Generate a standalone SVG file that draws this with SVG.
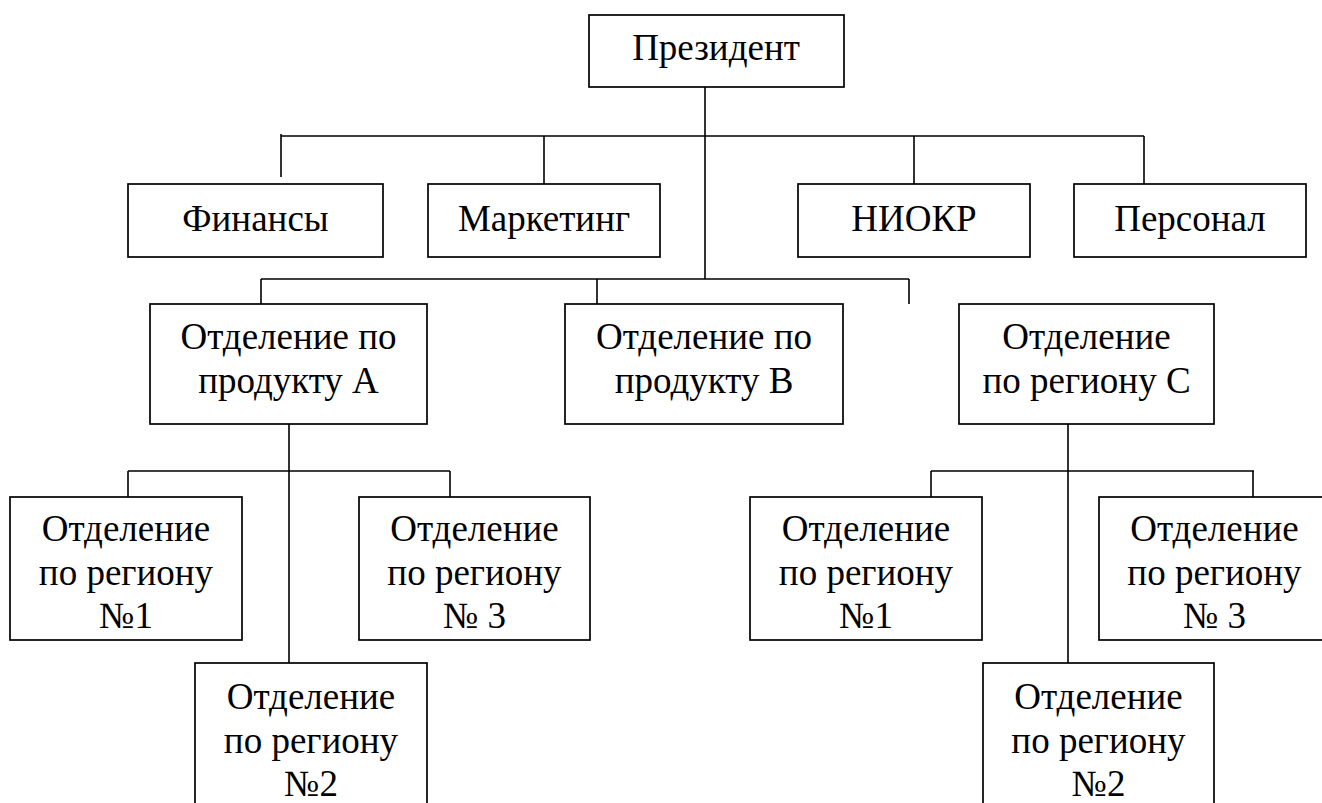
<svg xmlns="http://www.w3.org/2000/svg" width="1322" height="803" viewBox="0 0 1322 803">
<style>
.box{fill:#fff;stroke:#000;stroke-width:1.7}
.ln{stroke:#000;stroke-width:1.6;fill:none}
.t{font-family:'Liberation Serif','Times New Roman',serif;font-size:37px;fill:#000;text-anchor:middle}
</style>
<rect width="1322" height="803" fill="#fff"/>
<g id="connectors">
<path class="ln" d="M705 87V279M281 136H1144M281 134V177M544 136V184M914 136V184M1144 136V184"/>
<path class="ln" d="M261 279H909M261 279V304M597 279V304M909 279V304"/>
<path class="ln" d="M289 424V663M128 471H450M128 471V497M450 471V497"/>
<path class="ln" d="M1068 424V663M931 471H1254M931 471V497M1253 471V497"/>
</g>
<g class="t">
<g id="president"><rect class="box" x="589" y="15" width="255" height="72"/><text x="716" y="60">Президент</text></g>
<g id="finance"><rect class="box" x="128" y="184" width="255" height="73"/><text x="255.5" y="231">Финансы</text></g>
<g id="marketing"><rect class="box" x="428" y="184" width="232" height="73"/><text x="544" y="231">Маркетинг</text></g>
<g id="niokr"><rect class="box" x="798" y="184" width="232" height="73"/><text x="914" y="231">НИОКР</text></g>
<g id="personnel"><rect class="box" x="1074" y="184" width="232" height="73"/><text x="1190" y="231">Персонал</text></g>
<g id="productA"><rect class="box" x="150" y="304" width="277" height="120"/><text x="288.5" y="349">Отделение по</text><text x="288.5" y="393">продукту А</text></g>
<g id="productB"><rect class="box" x="565" y="304" width="278" height="120"/><text x="704" y="349">Отделение по</text><text x="704" y="393">продукту В</text></g>
<g id="regionC"><rect class="box" x="959" y="304" width="255" height="120"/><text x="1086.5" y="349">Отделение</text><text x="1086.5" y="393">по региону С</text></g>
<g id="a-region1"><rect class="box" x="10" y="497" width="232" height="143"/><text x="126" y="541">Отделение</text><text x="126" y="585">по региону</text><text x="126" y="628">№1</text></g>
<g id="a-region3"><rect class="box" x="359" y="497" width="231" height="143"/><text x="474.5" y="541">Отделение</text><text x="474.5" y="585">по региону</text><text x="474.5" y="628">№ 3</text></g>
<g id="a-region2"><rect class="box" x="195" y="663" width="232" height="150"/><text x="311" y="709">Отделение</text><text x="311" y="753">по региону</text><text x="311" y="796">№2</text></g>
<g id="c-region1"><rect class="box" x="750" y="497" width="232" height="143"/><text x="866" y="541">Отделение</text><text x="866" y="585">по региону</text><text x="866" y="628">№1</text></g>
<g id="c-region3"><rect class="box" x="1099" y="497" width="232" height="143"/><text x="1214.5" y="541">Отделение</text><text x="1214.5" y="585">по региону</text><text x="1214.5" y="628">№ 3</text></g>
<g id="c-region2"><rect class="box" x="983" y="663" width="231" height="150"/><text x="1098.5" y="709">Отделение</text><text x="1098.5" y="753">по региону</text><text x="1098.5" y="796">№2</text></g>
</g>
</svg>
